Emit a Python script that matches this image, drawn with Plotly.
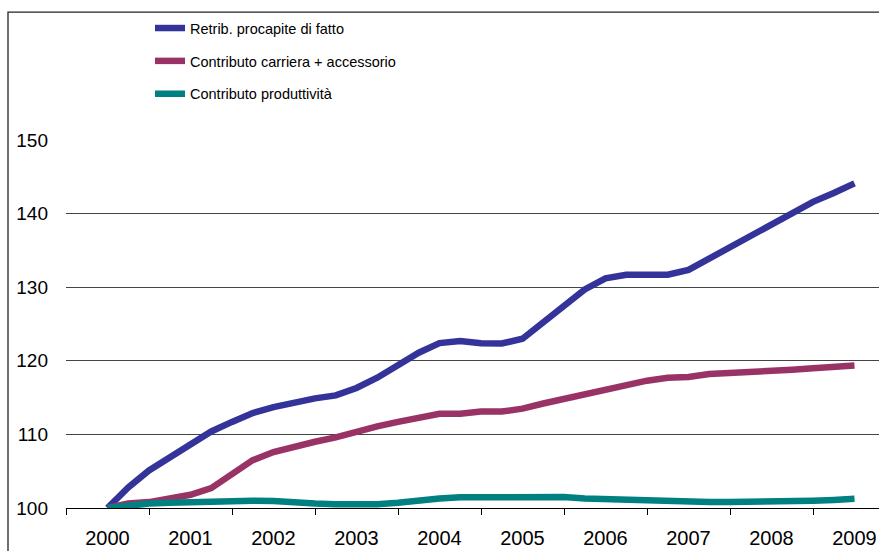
import plotly.graph_objects as go

years = [2000, 2001, 2002, 2003, 2004, 2005, 2006, 2007, 2008, 2009]
year_labels = ["2000", "2001", "2002", "2003", "2004", "2005", "2006", "2007", "2008", "2009"]
quarters = [y + q / 4 for y in years[:-1] for q in range(4)] + [years[-1]]

retrib = [100.0, 102.8, 105.1, 106.9,
          108.6, 110.4, 111.7, 112.9,
          113.7, 114.4, 114.9, 115.3,
          116.3, 117.7, 119.5, 121.1,
          122.4, 122.7, 122.4, 122.35,
          123.0, 125.3, 127.5, 129.7,
          131.2, 131.7, 131.7, 131.7,
          132.35, 133.9, 135.5, 137.2,
          138.7, 140.3, 141.6, 142.8,
          144.1]
carriera = [100.0, 100.6, 100.8, 101.3,
            101.8, 102.7, 104.7, 106.5,
            107.6, 108.4, 109.0, 109.6,
            110.4, 111.1, 111.7, 112.3,
            112.8, 112.8, 113.1, 113.1,
            113.5, 114.2, 114.8, 115.4,
            116.2, 116.8, 117.3, 117.7,
            117.8, 118.2, 118.3, 118.4,
            118.6, 118.8, 119.0, 119.2,
            119.35]
produtt = [100.0, 100.4, 100.6, 100.7,
           100.8, 100.95, 101.0, 101.0,
           100.95, 100.7, 100.6, 100.5,
           100.4, 100.5, 100.7, 101.05,
           101.3, 101.45, 101.5, 101.5,
           101.5, 101.5, 101.5, 101.3,
           101.2, 101.1, 100.95, 100.85,
           100.85, 100.8, 100.8, 100.8,
           100.8, 100.85, 101.0, 101.1,
           101.25]

names = ["Retrib. procapite di fatto", "Contributo carriera + accessorio", "Contributo produttività"]
colors = ["#333399", "#993366", "#008080"]
series = [retrib, carriera, produtt]

fig = go.Figure()
for i, (nm, col, vals) in enumerate(zip(names, colors, series)):
    fig.add_trace(go.Scatter(x=quarters, y=vals, mode="lines", name=nm,
                             legendgroup=f"g{i}",
                             line=dict(color=col, width=6.5)))

W, H = 879, 551
L, R, T, B = 66, 0, 140, 551 - 508.3
pw = W - L - R
ph = H - T - B

fig.update_layout(
    width=W, height=H,
    margin=dict(l=L, r=R, t=T, b=B, pad=0, autoexpand=False),
    paper_bgcolor="white", plot_bgcolor="white",
    font=dict(family="Liberation Sans, Arial, sans-serif", size=19, color="#000"),
    showlegend=True,
    legend=dict(x=(150 - L) / pw, xanchor="left",
                y=(508.3 - 12) / ph, yanchor="top",
                font=dict(family="Liberation Sans, Arial, sans-serif", size=14.5),
                bgcolor="rgba(0,0,0,0)", tracegroupgap=11,
                itemwidth=30),
    xaxis=dict(range=[1999.5, 1999.5 + pw / 83.0], tickvals=years, ticktext=year_labels,
               tickfont=dict(size=20),
               ticks="", showgrid=False, zeroline=False,
               showline=True, linecolor="#000", linewidth=1,
               ticklabelstandoff=12,
               minor=dict(tick0=1999.5, dtick=1, ticks="outside", ticklen=6,
                          tickcolor="#000", tickwidth=1, showgrid=False)),
    yaxis=dict(range=[100, 150], tickvals=[100, 110, 120, 130, 140, 150],
               showgrid=True, gridcolor="#444", gridwidth=1, zeroline=False,
               showline=False, ticks="", ticklabelstandoff=17),
    shapes=[dict(type="rect", xref="paper", yref="paper",
                 x0=(8 - L) / pw, x1=(885 - L) / pw,
                 y0=(508.3 - 560) / ph, y1=(508.3 - 12) / ph,
                 line=dict(color="#222", width=1.3), fillcolor="rgba(0,0,0,0)",
                 layer="below")],
)

fig.write_html("out.html", config={"displayModeBar": False},
               post_script="document.body.style.margin='0';")
